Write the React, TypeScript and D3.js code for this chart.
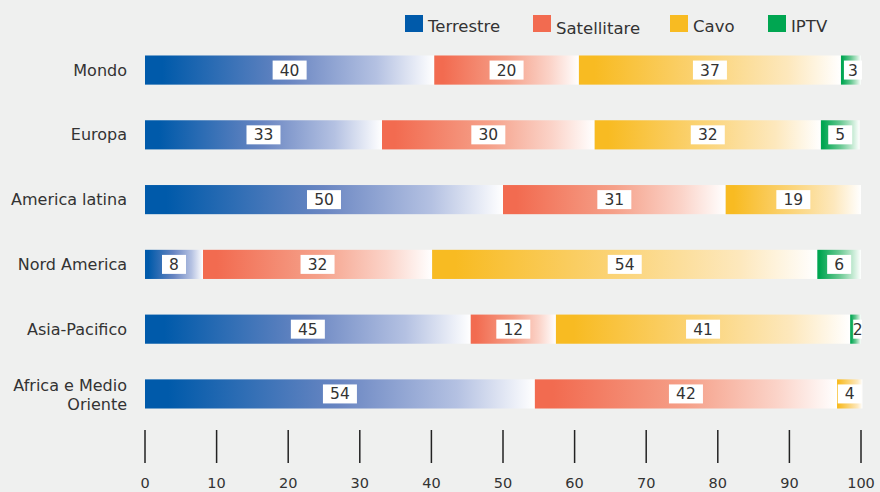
import React from "react";
import * as d3 from "d3";

const categories = ["Mondo", "Europa", "America latina", "Nord America", "Asia-Pacifico", "Africa e Medio Oriente"];
const seriesNames = ["Terrestre", "Satellitare", "Cavo", "IPTV"];
const terrestre = [40.4, 33.1, 50.0, 8.1, 45.49, 54.45];
const satellitare = [20.2, 29.7, 31.1, 32.0, 11.9, 42.2];
const cavo = [36.6, 31.6, 18.9, 53.8, 41.1, 3.55];
const iptv = [2.8, 5.4, 0, 6.1, 1.51, 0];
const tickValues = [0, 10, 20, 30, 40, 50, 60, 70, 80, 90, 100];

const colors = ["#005aaa", "#f26b50", "#f8bb22", "#00a651"];
const midColors = ["#6a86c2", "#f5a089", "#fbd57c", "#66c891"];
const lightColors = ["#b4c1e2", "#fbd3c8", "#fde8bd", "#bfe8cf"];

const W = 880, H = 492;
const FONT = "'DejaVu Sans', Verdana, sans-serif";

export default function App() {
  const x = d3.scaleLinear().domain([0, 100]).range([145, 861]);
  const y = d3.scaleBand().domain(categories).range([38, 426]).paddingInner(0.55).paddingOuter(0.27);
  const data = [terrestre, satellitare, cavo, iptv];
  const stackRows = categories.map((c, i) => {
    const obj: any = { cat: c };
    seriesNames.forEach((s, k) => (obj[s] = data[k][i]));
    return obj;
  });
  const stacked = d3.stack().keys(seriesNames)(stackRows);
  const legendX = [405, 533, 670, 768];
  const legendTextDy = [0, 2, 0, 0];

  return (
    <svg width={W} height={H} style={{ position: "absolute", left: 0, top: 0, background: "#eff0ef" }} fontFamily={FONT}>
      <defs>
        {colors.map((c, k) => (
          <linearGradient id={`g${k}`} key={k} x1="0" x2="1" y1="0" y2="0">
            <stop offset="0" stopColor={c} />
            <stop offset="0.06" stopColor={c} />
            <stop offset="0.5" stopColor={midColors[k]} />
            <stop offset="0.8" stopColor={lightColors[k]} />
            <stop offset="1" stopColor="#ffffff" />
          </linearGradient>
        ))}
      </defs>
      <rect width={W} height={H} fill="#eff0ef" />
      {/* legend */}
      {seriesNames.map((s, k) => (
        <g key={s}>
          <rect x={legendX[k]} y={15} width={18} height={17} fill={colors[k]} />
          <text x={legendX[k] + 23} y={32 + legendTextDy[k]} fontSize={16.5} fill="#333">{s}</text>
        </g>
      ))}
      {/* category labels */}
      {categories.map((c) => {
        const cy = (y(c) as number) + y.bandwidth() / 2;
        if (c === "Africa e Medio Oriente") {
          return (
            <text key={c} x={127} textAnchor="end" fontSize={16} fill="#333">
              <tspan x={127} y={cy - 3}>Africa e Medio</tspan>
              <tspan x={127} y={cy + 16}>Oriente</tspan>
            </text>
          );
        }
        return (
          <text key={c} x={127} y={cy + 5.5} textAnchor="end" fontSize={16} fill="#333">{c}</text>
        );
      })}
      {/* bars */}
      {stacked.map((layer, k) =>
        layer.map((d, i) => {
          const x0 = x(d[0]), x1 = x(d[1]);
          if (x1 - x0 <= 0.01) return null;
          return (
            <rect key={`${k}-${i}`} x={x0} y={y(categories[i]) as number} width={x1 - x0} height={y.bandwidth()} fill={`url(#g${k})`} />
          );
        })
      )}
      {/* value labels */}
      {stacked.map((layer, k) =>
        layer.map((d, i) => {
          const v = data[k][i];
          if (v <= 0) return null;
          const label = String(Math.round(v));
          const x0 = x(d[0]), x1 = x(d[1]);
          const cx = (x0 + x1) / 2;
          const cy = (y(categories[i]) as number) + y.bandwidth() / 2;
          let bw = label.length === 1 ? 24 : 34;
          let bx = cx - bw / 2;
          if (bx + bw > 862) {
            bx = Math.max(x0 + 3, 862 - bw);
            bw = 862 - bx;
          }
          const tx = bx + bw / 2;
          return (
            <g key={`l${k}-${i}`}>
              <rect x={bx} y={cy - 9.5} width={bw} height={19} fill="#ffffff" />
              <text x={tx} y={cy + 5.5} textAnchor="middle" fontSize={15.5} fill="#333">{label}</text>
            </g>
          );
        })
      )}
      {/* axis */}
      {tickValues.map((t) => (
        <g key={t}>
          <line x1={x(t)} x2={x(t)} y1={430} y2={463} stroke="#222" strokeWidth={1.5} />
          <text x={x(t)} y={488} textAnchor="middle" fontSize={14.5} fill="#333">{t}</text>
        </g>
      ))}
    </svg>
  );
}
